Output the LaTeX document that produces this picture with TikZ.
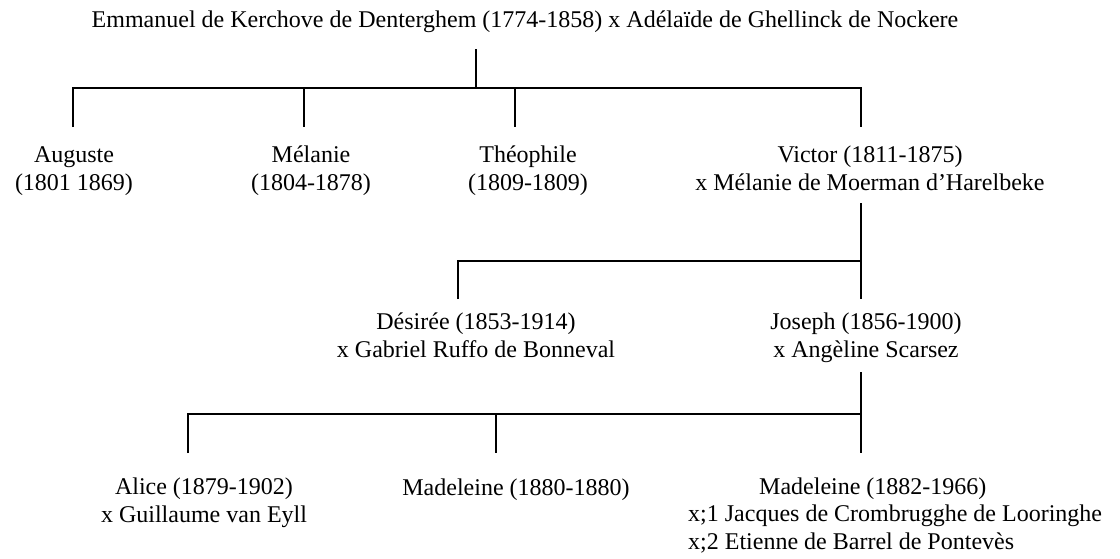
\documentclass[tikz,border=0pt]{standalone}
\usepackage{fontspec}
\setmainfont{Liberation Serif}
\begin{document}
\begin{tikzpicture}[x=1pt,y=1pt,
  person/.style={font=\fontsize{24pt}{27.3pt}\selectfont, inner sep=0pt, align=center, anchor=base},
  link/.style={line width=1.8pt, line join=miter}]
\useasboundingbox (0,0) rectangle (1120,-558);

% generation 0 (each node is placed by the baseline of its last line)
\node[person] (root) at (525,-27) {Emmanuel de Kerchove de Denterghem (1774-1858) x Adélaïde de Ghellinck de Nockere};

% generation 1
\node[person] (aug)  at (74,-190)  {Auguste\\(1801 1869)};
\node[person] (mel)  at (311,-190) {Mélanie\\(1804-1878)};
\node[person] (theo) at (528,-190) {Théophile\\(1809-1809)};
\node[person] (vic)  at (870,-190) {Victor (1811-1875)\\x Mélanie de Moerman d’Harelbeke};

% generation 2
\node[person] (des) at (476,-357) {Désirée (1853-1914)\\x Gabriel Ruffo de Bonneval};
\node[person] (jos) at (866,-357) {Joseph (1856-1900)\\x Angèline Scarsez};

% generation 3
\node[person] (ali)  at (204,-522) {Alice (1879-1902)\\x Guillaume van Eyll};
\node[person] (mad1) at (516,-495) {Madeleine (1880-1880)};
\node[person, align=left, anchor=base west] (mad2) at (688,-549)
  {\hspace*{71pt}Madeleine (1882-1966)\\x;1 Jacques de Crombrugghe de Looringhe\\x;2 Etienne de Barrel de Pontevès};

% junction points of the tree
\coordinate (s0) at (476,-49);  \coordinate (b0) at (476,-88);
\coordinate (a0) at (73,-127);  \coordinate (a1) at (73,-88);
\coordinate (m0) at (304,-127); \coordinate (m1) at (304,-88);
\coordinate (t0) at (515,-127); \coordinate (t1) at (515,-88);
\coordinate (v0) at (861,-127); \coordinate (v1) at (861,-88);

\coordinate (s1) at (861,-203); \coordinate (b1) at (861,-261);
\coordinate (d0) at (458,-299); \coordinate (d1) at (458,-261);
\coordinate (j0) at (861,-299);

\coordinate (s2) at (861,-372); \coordinate (b2) at (861,-414);
\coordinate (l0) at (188,-453); \coordinate (l1) at (188,-414);
\coordinate (n0) at (496,-453); \coordinate (n1) at (496,-414);
\coordinate (e0) at (861,-453);

% connectors
\draw[link] (s0) -- (b0);
\draw[link] (a0) -- (a1) -- (v1) -- (v0);
\draw[link] (m1) -- (m0);
\draw[link] (t1) -- (t0);

\draw[link] (s1) -- (j0);
\draw[link] (d0) -- (d1) -- (b1);

\draw[link] (s2) -- (e0);
\draw[link] (l0) -- (l1) -- (b2);
\draw[link] (n1) -- (n0);
\end{tikzpicture}
\end{document}
